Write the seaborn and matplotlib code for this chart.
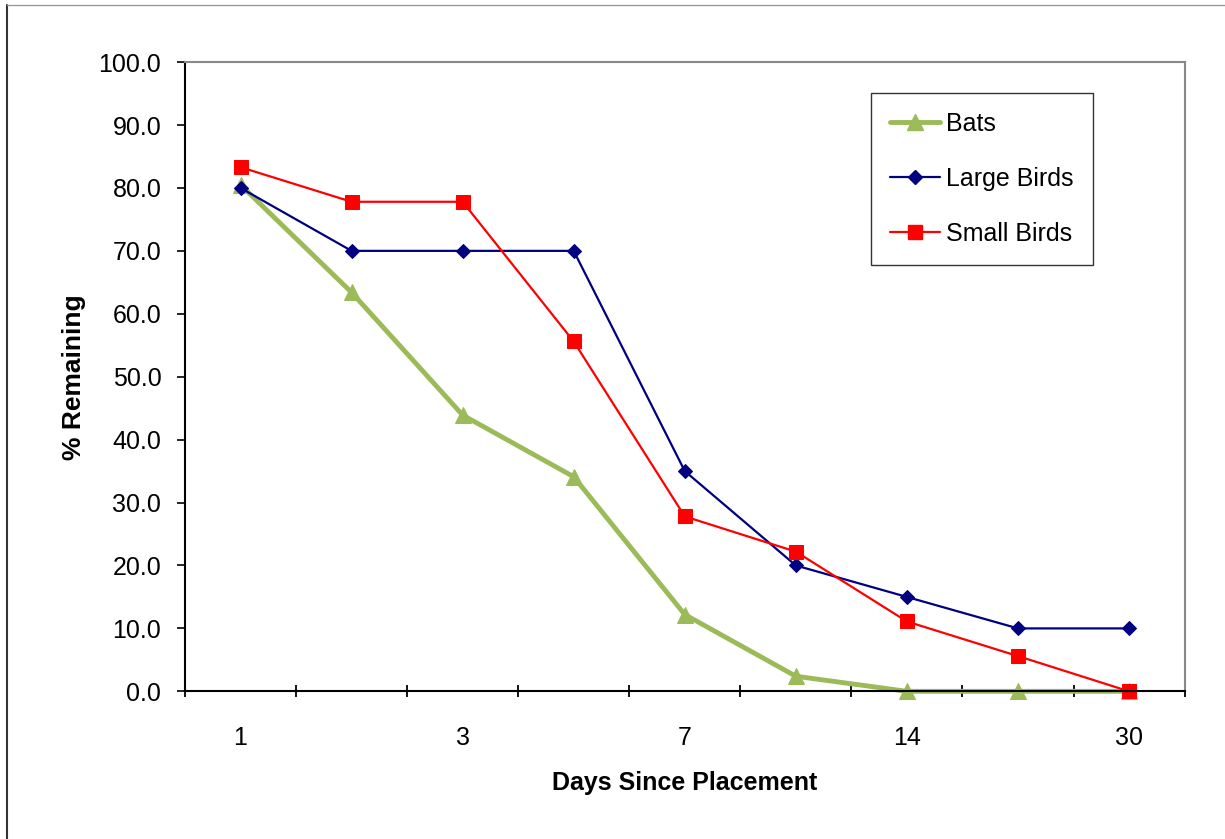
import numpy as np
import pandas as pd
import seaborn as sns
import matplotlib.pyplot as plt
from matplotlib.lines import Line2D

sns.set_style("white", {'xtick.bottom': True, 'ytick.left': True})
plt.rcParams['font.family'] = ['Liberation Sans', 'DejaVu Sans']
plt.rcParams.update({'text.color': 'black', 'axes.labelcolor': 'black',
                     'xtick.color': 'black', 'ytick.color': 'black'})

# data
days = ["1", "2", "3", "5", "7", "10", "14", "21", "30"]
bats = [80.5, 63.4, 43.9, 34.1, 12.2, 2.4, 0.0, 0.0, 0.0]
large_birds = [80.0, 70.0, 70.0, 70.0, 35.0, 20.0, 15.0, 10.0, 10.0]
small_birds = [83.3, 77.8, 77.8, 55.6, 27.8, 22.2, 11.1, 5.6, 0.0]

series = [
    ("Bats", bats, "#9BBB59", "^", 3.5, 12),
    ("Large Birds", large_birds, "#000080", "D", 1.6, 7),
    ("Small Birds", small_birds, "#FF0000", "s", 1.6, 10),
]

fig = plt.figure(figsize=(12.25, 8.39), dpi=100)
ax = fig.add_axes([0.151, 0.176, 0.816, 0.750])

pos = np.arange(len(days))
for name, vals, col, mk, lw, ms in series:
    sns.lineplot(x=pos, y=vals, ax=ax, color=col, marker=mk, linewidth=lw,
                 markersize=ms, markeredgecolor=col, label=name, legend=False,
                 clip_on=False)

ax.set_xlim(-0.5, len(days) - 0.5)
ax.set_ylim(0, 100)
ax.set_yticks(np.arange(0, 101, 10))
ax.set_yticklabels([f"{v:.1f}" for v in np.arange(0, 101, 10)], fontsize=18)
ax.set_xticks(pos[::2])
ax.set_xticklabels(days[::2], fontsize=18)
ax.tick_params(axis='x', which='major', bottom=True, length=0, pad=25)
ax.set_xticks(np.arange(-0.5, len(days), 1), minor=True)
ax.tick_params(axis='x', which='minor', bottom=True, direction='inout',
               length=9, width=1.3, color='black')
ax.tick_params(axis='y', left=True, direction='out', length=6, width=1.2,
               color='black', pad=11)

for s in ['left', 'bottom']:
    ax.spines[s].set_color('black')
    ax.spines[s].set_linewidth(1.5)
for s in ['top', 'right']:
    ax.spines[s].set_color('#888888')
    ax.spines[s].set_linewidth(1.5)

ax.set_xlabel("Days Since Placement", fontsize=18, fontweight='bold', labelpad=15)
ax.set_ylabel("% Remaining", fontsize=19, fontweight='bold', labelpad=9)

handles = [Line2D([], [], color=c, marker=m, linewidth=lw, markersize=ms, markeredgecolor=c)
           for _, _, c, m, lw, ms in series]
leg = ax.legend(handles, [s[0] for s in series], loc='upper right',
                bbox_to_anchor=(0.908, 0.951), fontsize=18, frameon=True, fancybox=False,
                edgecolor='black', handlelength=2.0, labelspacing=1.25,
                borderpad=0.75, handletextpad=0.25, borderaxespad=0)
leg.get_frame().set_linewidth(1.0)

# outer frame lines on the left and top of the image
fig.add_artist(Line2D([0.006, 0.006], [0, 0.994], color='#333333', linewidth=1.5))
fig.add_artist(Line2D([0.006, 1], [0.994, 0.994], color='#999999', linewidth=1.0))

fig.savefig("out.png", dpi=100)
